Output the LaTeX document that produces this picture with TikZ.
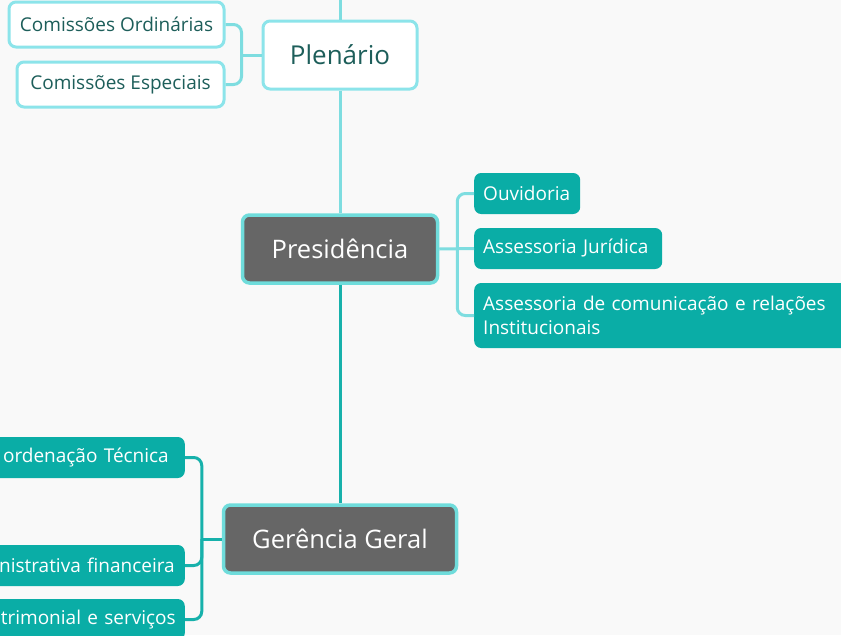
\documentclass[tikz,border=0pt]{standalone}
\usepackage{fontspec}
\setmainfont{Open Sans}
\usetikzlibrary{calc}
\definecolor{bgc}{HTML}{F9F9F9}
\definecolor{lcyan}{HTML}{8CE4EA}
\definecolor{lline}{HTML}{7EDDE0}
\definecolor{tealf}{HTML}{0AADA6}
\definecolor{tline}{HTML}{17B1AB}
\definecolor{grayf}{HTML}{666666}
\definecolor{gborder}{HTML}{6FDCDB}
\definecolor{dtext}{HTML}{1D5E5A}
\tikzset{
  whitebox/.style={draw=lcyan, line width=3pt, fill=white, rounded corners=7pt, text=dtext, inner sep=0pt},
  mainbox/.style={draw=gborder, line width=3.5pt, fill=grayf, rounded corners=7pt, text=white, inner sep=0pt, font=\fontsize{25.5}{30}\selectfont},
  tealbox/.style={fill=tealf, rounded corners=7pt, text=white, font=\fontsize{19}{24}\selectfont, inner ysep=0pt},
  lconn/.style={draw=lline, line width=3pt, rounded corners=8pt},
  tconn/.style={draw=tline, line width=3pt, rounded corners=8pt},
}
\begin{document}
\begin{tikzpicture}[x=1pt,y=-1pt]
\useasboundingbox (0,0) rectangle (841,635);
\fill[bgc] (0,0) rectangle (841,635);
\clip (0,0) rectangle (841,635);

% main nodes
\node[whitebox, minimum width=154pt, minimum height=68pt, font=\fontsize{26}{30}\selectfont] (pl) at (340,55) {Plenário};
\node[mainbox, minimum width=195pt, minimum height=68pt] (pr) at (340,249) {Presidência};
\node[mainbox, minimum width=233pt, minimum height=68pt] (ge) at (340,539) {Gerência Geral};

% Plenario children
\node[whitebox, minimum width=215pt, minimum height=45pt, font=\fontsize{19}{22}\selectfont] (co) at (116.5,24.5) {Comissões Ordinárias};
\node[whitebox, minimum width=207pt, minimum height=45pt, font=\fontsize{19}{22}\selectfont] (ce) at (120.5,84.5) {Comissões Especiais};

% Presidencia children
\node[tealbox, anchor=west, text width=88pt, inner xsep=9pt, minimum height=41pt, align=left] (ou) at (474,193.5) {Ouvidoria};
\node[tealbox, anchor=west, text width=170pt, inner xsep=9pt, minimum height=41pt, align=left] (aj) at (474,248.5) {Assessoria Jurídica};
\node[tealbox, anchor=west, text width=400pt, inner xsep=9pt, minimum height=65pt, align=left] (ac) at (474,315.5) {Assessoria de comunicação e relações\\Institucionais};

% Gerencia children (clipped at left edge)
\node[tealbox, anchor=east, text width=260pt, inner xsep=16pt, minimum height=41pt, align=right] (ct) at (185,457.5) {ordenação Técnica};
\node[tealbox, anchor=east, text width=260pt, inner xsep=10pt, minimum height=41pt, align=right] (af) at (185,565.5) {nistrativa financeira};
\node[tealbox, anchor=east, text width=260pt, inner xsep=9pt, minimum height=41pt, align=right] (ps) at (185,619.5) {trimonial e serviços};

\coordinate (top) at (340,0);
\coordinate (jp) at ($(pl.west)+(-20,0)$);
\coordinate (jr) at ($(pr.east)+(18,0)$);
\coordinate (jg) at ($(ge.west)+(-20,0)$);

% trunk
\draw[lconn] (top) -- (pl.north);
\draw[lconn] (pl.south) -- (pr.north);
\draw[tconn] (pr.south) -- (ge.north);

% Plenario branch
\draw[lconn] (pl.west) -- (jp);
\draw[lconn] (co.east) -| (jp);
\draw[lconn] (ce.east) -| (jp);

% Presidencia branch
\draw[lconn] (pr.east) -- (aj.west);
\draw[lconn] (ou.west) -| (jr);
\draw[lconn] (ac.west) -| (jr);

% Gerencia branch
\draw[tconn] (ge.west) -- (jg);
\draw[tconn] (ct.east) -| (jg);
\draw[tconn] (af.east) -| (jg);
\draw[tconn] (ps.east) -| (jg);
\end{tikzpicture}
\end{document}
